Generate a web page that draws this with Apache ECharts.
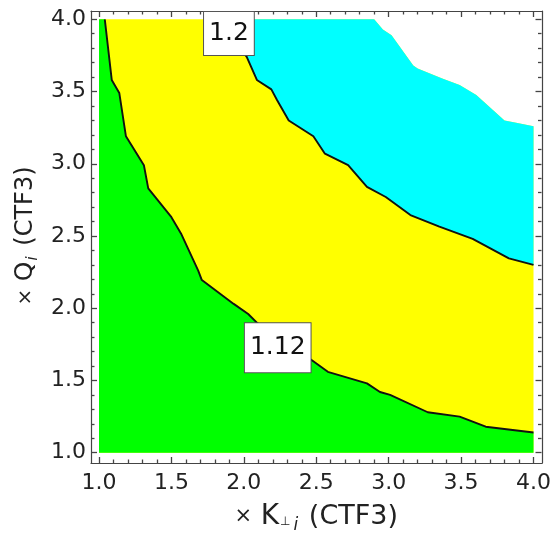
<!DOCTYPE html>
<html>
<head>
<meta charset="utf-8">
<script src="https://cdn.jsdelivr.net/npm/echarts@6/dist/echarts.min.js"></script>
<style>
html, body { margin: 0; padding: 0; background: #fff; }
#chart { width: 554px; height: 544px; }
</style>
</head>
<body>
<div id="chart"></div>
<script>
// contour lines, [K_perp, Q]
var contour112 = [[1.04, 4.0], [1.088, 3.58], [1.14, 3.49], [1.186, 3.19], [1.31, 2.99], [1.34, 2.83],
	[1.50, 2.63], [1.57, 2.51], [1.685, 2.26], [1.71, 2.195], [1.93, 2.03], [2.03, 1.96], [2.09, 1.90],
	[2.47, 1.64], [2.58, 1.56], [2.85, 1.48], [2.94, 1.42], [3.01, 1.40], [3.27, 1.28], [3.49, 1.25],
	[3.67, 1.18], [4.0, 1.14]];
var contour120 = [[1.85, 4.0], [1.90, 3.90], [2.02, 3.74], [2.09, 3.58], [2.19, 3.515], [2.23, 3.44],
	[2.31, 3.30], [2.48, 3.19], [2.56, 3.07], [2.72, 2.99], [2.85, 2.84], [2.98, 2.77], [3.15, 2.645],
	[3.35, 2.565], [3.58, 2.48], [3.83, 2.345], [4.0, 2.30]];
// edge of the computed region (no data above it)
var dataEdge = [[2.90, 4.0], [2.96, 3.93], [3.02, 3.89], [3.17, 3.68], [3.20, 3.66], [3.37, 3.59],
	[3.49, 3.545], [3.605, 3.476], [3.80, 3.30], [3.88, 3.284], [4.0, 3.26]];
var plotRange = [1.0, 4.0];
var contourLabels = [[1.897, 3.902, '1.2'], [2.234, 1.727, '1.12']];
var tickStep = 0.5;

var lo = plotRange[0], hi = plotRange[1];
var regions = [
	{ color: '#ffff00', pts: [[lo, lo], [lo, hi]].concat(dataEdge, [[hi, lo]]) },
	{ color: '#00ff00', pts: [[lo, lo], [lo, hi]].concat(contour112, [[hi, lo]]) },
	{ color: '#00ffff', pts: contour120.concat(dataEdge.slice().reverse()) }
];

var FONT = 'DejaVu Sans';
var FRAME = '#444';
var INK = '#222';

// data area in pixels, frame is a few pixels outside it
var pad = { left: 8, right: 8, top: 8.3, bottom: 10.3 };
var dataGrid = { left: 99, top: 19.3, right: 20, bottom: 91.3 };

function axis(pos, labelOn) {
	return {
		type: 'value', position: pos, gridIndex: 0,
		min: lo, max: hi, interval: tickStep,
		offset: pad[pos],
		splitLine: { show: false },
		axisLine: { show: false },
		axisTick: { show: true, inside: true, length: 6, lineStyle: { color: FRAME, width: 1.3 } },
		minorTick: { show: true, splitNumber: 5, length: 3.5, lineStyle: { color: FRAME, width: 1.3 } },
		axisLabel: { show: labelOn, fontFamily: FONT, fontSize: 22, color: INK,
			margin: pos === 'bottom' ? 9 : 5,
			formatter: function (v) { return v.toFixed(1); } }
	};
}
function frameAxis(pos) {
	return {
		type: 'value', position: pos, gridIndex: 1, min: 0, max: 1,
		splitLine: { show: false }, axisTick: { show: false }, axisLabel: { show: false },
		axisLine: { show: true, onZero: false, lineStyle: { color: FRAME, width: 1.2 } }
	};
}

var xAxes = [axis('bottom', true), axis('top', false), frameAxis('bottom'), frameAxis('top')];
var yAxes = [axis('left', true), axis('right', false), frameAxis('left'), frameAxis('right')];

xAxes[0].name = '{x|×} {k|K}{p|⊥}{s|i} (CTF3)';
xAxes[0].nameLocation = 'middle';
xAxes[0].nameGap = 36;
xAxes[0].nameTextStyle = {
	fontFamily: FONT, fontSize: 27, color: INK,
	rich: {
		x: { fontFamily: FONT, fontSize: 21, color: INK },
		k: { fontFamily: FONT, fontSize: 28, color: INK },
		p: { fontFamily: FONT, fontSize: 12, color: INK, padding: [10, 1, 0, 1] },
		s: { fontFamily: FONT, fontSize: 17, color: INK, fontStyle: 'italic', padding: [18, 2, 0, 2] }
	}
};
yAxes[0].name = '{x|×} {q|Q}{s|i} (CTF3)';
yAxes[0].nameLocation = 'middle';
yAxes[0].nameRotate = 90;
yAxes[0].nameGap = 45;
yAxes[0].nameTextStyle = {
	fontFamily: FONT, fontSize: 24, color: INK,
	rich: {
		x: { fontFamily: FONT, fontSize: 20, color: INK },
		q: { fontFamily: FONT, fontSize: 25, color: INK },
		s: { fontFamily: FONT, fontSize: 15, color: INK, fontStyle: 'italic', padding: [14, 3, 0, 1] }
	}
};

var chart = echarts.init(document.getElementById('chart'));
chart.setOption({
	animation: false,
	backgroundColor: '#fff',
	grid: [
		dataGrid,
		{
			left: dataGrid.left - pad.left, top: dataGrid.top - pad.top,
			right: dataGrid.right - pad.right, bottom: dataGrid.bottom - pad.bottom
		}
	],
	xAxis: xAxes,
	yAxis: yAxes,
	series: [
		{
			type: 'custom',
			xAxisIndex: 0, yAxisIndex: 0,
			silent: true,
			data: regions.map(function (r, i) { return [r.pts[0][0], r.pts[0][1], i]; }),
			renderItem: function (params, api) {
				var r = regions[api.value(2)];
				return {
					type: 'polygon',
					shape: { points: r.pts.map(function (p) { return api.coord(p); }) },
					style: { fill: r.color, stroke: null }
				};
			},
			z: 1
		},
		{
			type: 'line', data: contour112, showSymbol: false, silent: true,
			lineStyle: { color: '#111', width: 1.9 }, z: 3
		},
		{
			type: 'line', data: contour120, showSymbol: false, silent: true,
			lineStyle: { color: '#111', width: 1.9 }, z: 3
		},
		{
			type: 'scatter', silent: true, z: 5,
			symbolSize: 1, itemStyle: { color: 'rgba(0,0,0,0)', opacity: 1 },
			data: contourLabels.map(function (d, i) {
				return {
					value: d,
					label: { padding: i === 0 ? [6, 5, 6, 5] : [9, 5, 9, 5] }
				};
			}),
			label: {
				show: true, position: 'inside', opacity: 1,
				formatter: function (p) { return p.value[2]; },
				fontFamily: FONT, fontSize: 25, lineHeight: 31, color: '#111',
				backgroundColor: '#fff', borderColor: '#555', borderWidth: 1
			}
		}
	]
});
</script>
</body>
</html>
